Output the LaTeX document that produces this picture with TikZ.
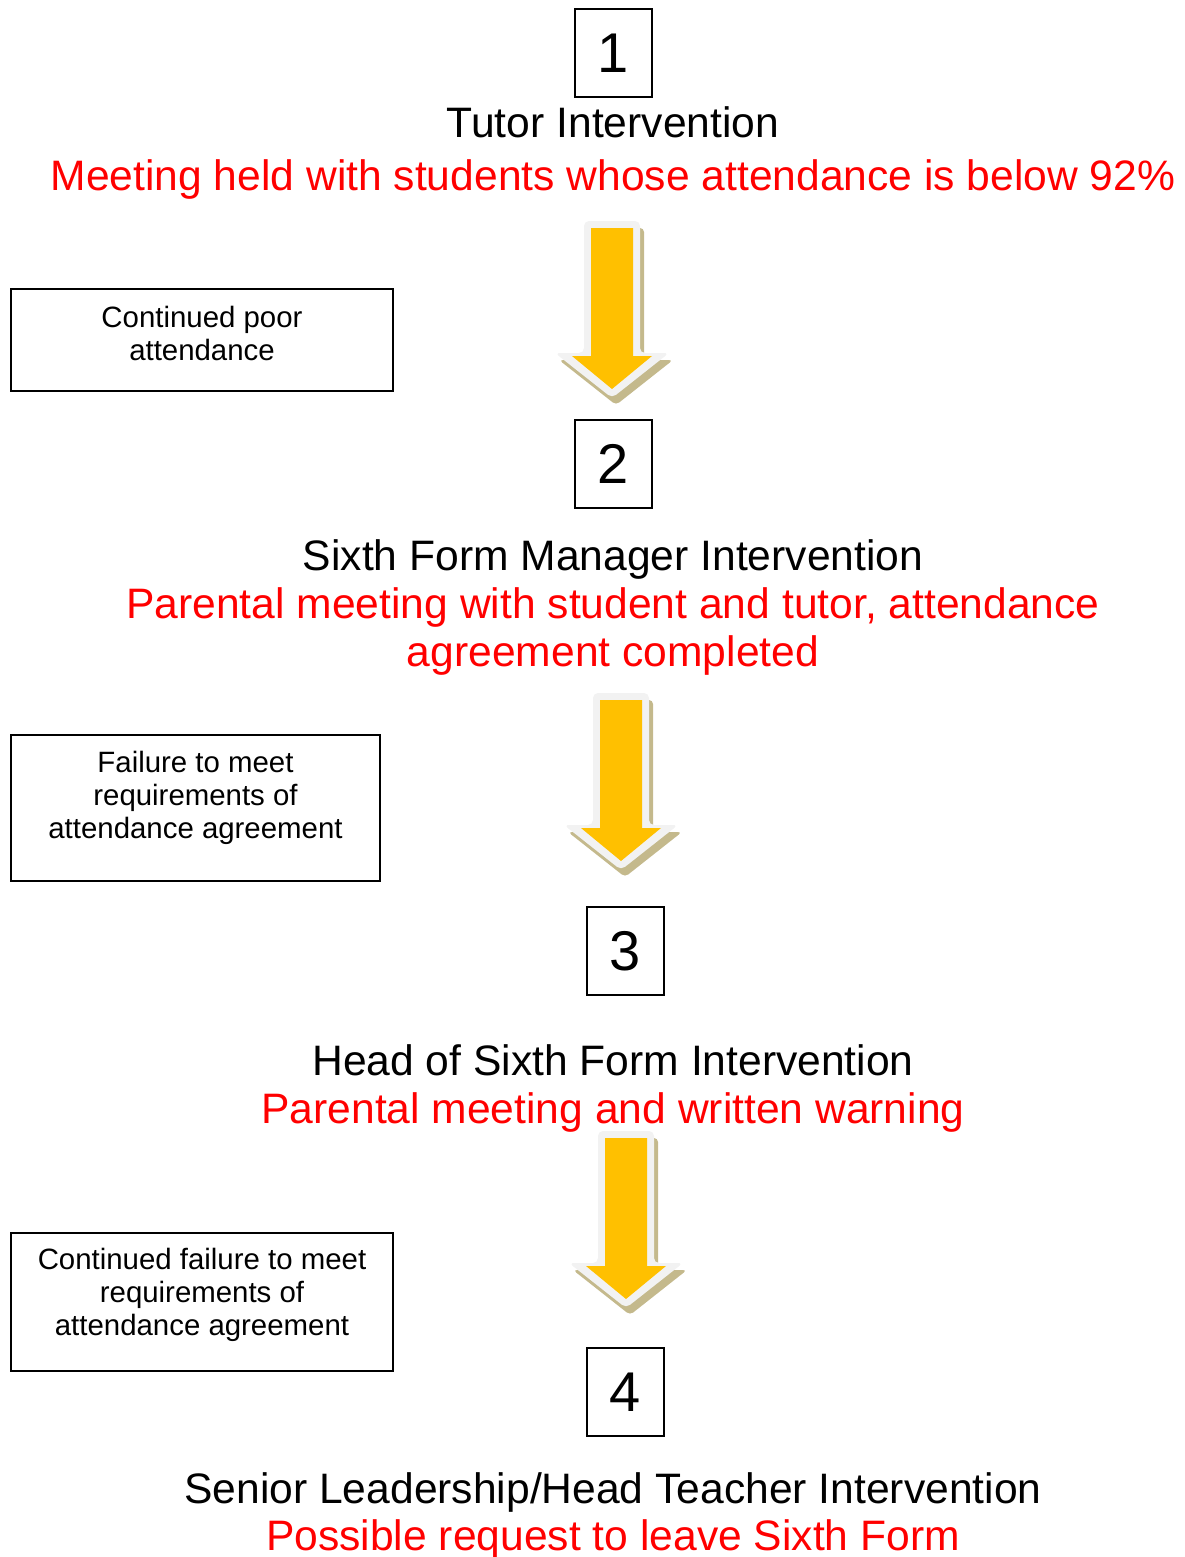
\documentclass[tikz,border=0pt]{standalone}
\usepackage{fontspec}
\setmainfont{Liberation Sans}
\definecolor{arrowfill}{HTML}{FFC000}
\definecolor{arrowedge}{HTML}{F2F2F2}
\definecolor{arrowshade}{HTML}{C4B98C}
\tikzset{
  stage/.style={font=\fontsize{42.6}{47}\selectfont, anchor=base},
  action/.style={stage, text=red},
  numbox/.style={draw, line width=1.6pt, minimum width=77, minimum height=88, inner sep=0pt, font=\fontsize{56}{60}\selectfont},
  sidebox/.style={draw, line width=1.5pt, inner sep=0pt},
  sidetext/.style={font=\fontsize{29.4}{33}\selectfont, align=center},
  pics/bigarrow/.style={code={
    \fill[arrowshade, rounded corners=4, shift={(4,7)}] (-28,0) -- (28,0) -- (28,132) -- (57,132) -- (0,177) -- (-57,132) -- (-28,132) -- cycle;
    \fill[arrowedge, rounded corners=5] (-28,0) -- (28,0) -- (28,132) -- (57,132) -- (0,177) -- (-57,132) -- (-28,132) -- cycle;
    \fill[arrowfill] (-21,7) -- (21,7) -- (21,135) -- (40,135) -- (0,168) -- (-40,135) -- (-21,135) -- cycle;
  }}
}
\begin{document}
\begin{tikzpicture}[x=1pt, y=-1pt]
\useasboundingbox (0,0) rectangle (1184,1557);
% stage 1
\node[numbox] (one) at (613.5,53) {1};
\node[stage] (tutor) at (613,138) {Tutor Intervention};
\node[action] (tutordo) at (613,190) {Meeting held with students whose attendance is below 92\%};
\pic at (612,221) {bigarrow};
\node[sidebox, minimum width=382, minimum height=102] (poor) at (202,340) {};
\node[sidetext] (poortext) at (202,333) {Continued poor\\attendance};
% stage 2
\node[numbox] (two) at (613.5,464) {2};
\node[stage] (manager) at (613,570) {Sixth Form Manager Intervention};
\node[action] (managerdo) at (613,618) {Parental meeting with student and tutor, attendance};
\node[action] (managerdo2) at (613,666) {agreement completed};
\pic at (621,693) {bigarrow};
\node[sidebox, minimum width=369, minimum height=146] (fail) at (195.5,808) {};
\node[sidetext] (failtext) at (195.5,798) {Failure to meet\\requirements of\\attendance agreement};
% stage 3
\node[numbox] (three) at (625.5,951) {3};
\node[stage] (head) at (613,1075) {Head of Sixth Form Intervention};
\node[action] (headdo) at (613,1123) {Parental meeting and written warning};
\pic at (626,1131) {bigarrow};
\node[sidebox, minimum width=382, minimum height=138] (failagain) at (202,1302) {};
\node[sidetext] (failagaintext) at (202,1295) {Continued failure to meet\\requirements of\\attendance agreement};
% stage 4
\node[numbox] (four) at (625.5,1392) {4};
\node[stage] (senior) at (613,1503) {Senior Leadership/Head Teacher Intervention};
\node[action] (seniordo) at (613,1550) {Possible request to leave Sixth Form};
\end{tikzpicture}
\end{document}
